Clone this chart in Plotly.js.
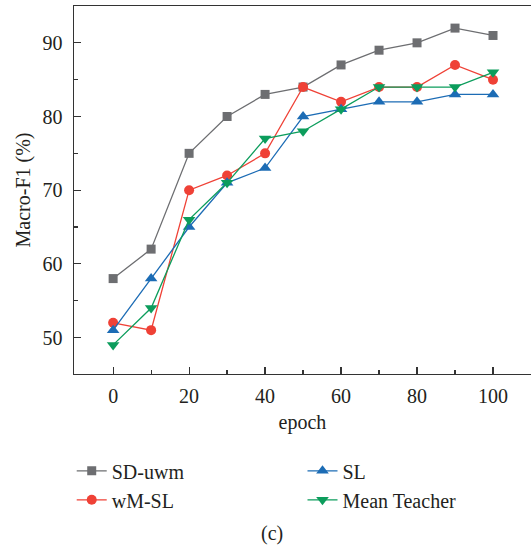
<!DOCTYPE html>
<html>
<head>
<meta charset="utf-8">
<script src="https://cdn.plot.ly/plotly-3.0.1.min.js"></script>
<style>html,body{margin:0;padding:0;background:#fff;overflow:hidden;}</style>
</head>
<body>
<div id="chart" style="width:531px;height:548px;"></div>
<script>
const epochs = [0, 10, 20, 30, 40, 50, 60, 70, 80, 90, 100];
const sdUwm = [58, 62, 75, 80, 83, 84, 87, 89, 90, 92, 91];
const wmSL = [52, 51, 70, 72, 75, 84, 82, 84, 84, 87, 85];
const sl = [51, 58, 65, 71, 73, 80, 81, 82, 82, 83, 83];
const meanTeacher = [49, 54, 66, 71, 77, 78, 81, 84, 84, 84, 86];
const seriesNames = ['SD-uwm', 'wM-SL', 'SL', 'Mean Teacher'];
const xTicks = [0, 20, 40, 60, 80, 100];
const yTicks = [50, 60, 70, 80, 90];

const FONT = 'Liberation Serif, Times New Roman, serif';

function tr(y, name, color, symbol, size, leg) {
  return {
    x: epochs, y: y, name: name, type: 'scatter', mode: 'lines+markers',
    line: {color: color, width: 1.3},
    marker: {color: color, symbol: symbol, size: size},
    legend: leg
  };
}

const data = [
  tr(sdUwm, seriesNames[0], '#6d6e71', 'square', 9, 'legend'),
  tr(wmSL, seriesNames[1], '#ef4136', 'circle', 10, 'legend'),
  tr(sl, seriesNames[2], '#1c6cb5', 'triangle-up', 11, 'legend2'),
  tr(meanTeacher, seriesNames[3], '#0c9d5c', 'triangle-down', 11, 'legend2')
];

const legendBase = {
  orientation: 'v', yanchor: 'top', xanchor: 'left',
  font: {family: FONT, size: 20, color: '#231f20'},
  bgcolor: 'rgba(0,0,0,0)', tracegroupgap: 0
};

const layout = {
  width: 531, height: 548,
  margin: {l: 74, r: 0, t: 6, b: 174, autoexpand: false},
  paper_bgcolor: '#fff', plot_bgcolor: '#fff',
  font: {family: FONT, size: 20, color: '#231f20'},
  showlegend: true,
  xaxis: {
    range: [-10.3, 110], tickvals: xTicks, ticks: 'inside', ticklen: 7, tickwidth: 1.2,
    tickcolor: '#333', showline: true, linecolor: '#333', linewidth: 1.4, mirror: true,
    showgrid: false, zeroline: false, ticklabelstandoff: 4,
    minor: {tickvals: [10, 30, 50, 70, 90], ticks: 'inside', ticklen: 4, tickwidth: 1.2, tickcolor: '#333'},
    title: {text: 'epoch', font: {family: FONT, size: 20}, standoff: 8}
  },
  yaxis: {
    range: [45.05, 95], tickvals: yTicks, ticks: 'inside', ticklen: 7, tickwidth: 1.2,
    tickcolor: '#333', showline: true, linecolor: '#333', linewidth: 1.4, mirror: false,
    showgrid: false, zeroline: false, ticklabelstandoff: 6,
    minor: {tickvals: [55, 65, 75, 85], ticks: 'inside', ticklen: 4, tickwidth: 1.2, tickcolor: '#333'},
    title: {text: 'Macro-F1 (%)', font: {family: FONT, size: 20}, standoff: 6}
  },
  legend: Object.assign({}, legendBase, {x: -0.005, y: -0.21}),
  legend2: Object.assign({}, legendBase, {x: 0.50, y: -0.21}),
  annotations: [{
    text: '(c)', xref: 'paper', yref: 'paper', x: 0.433, y: -0.433,
    xanchor: 'center', yanchor: 'middle', showarrow: false,
    font: {family: FONT, size: 20}
  }]
};

Plotly.newPlot('chart', data, layout, {displayModeBar: false, staticPlot: true});
</script>
</body>
</html>
